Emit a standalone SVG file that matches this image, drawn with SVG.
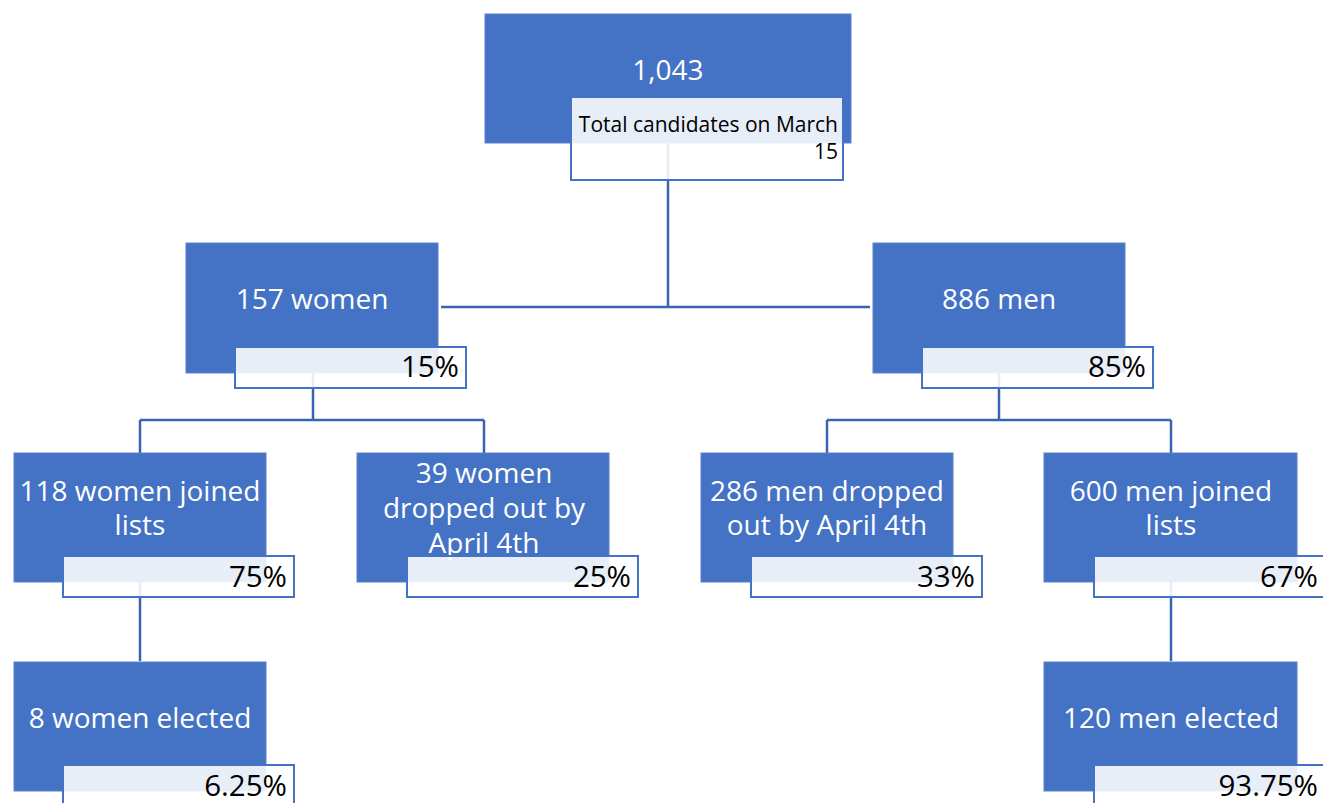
<svg xmlns="http://www.w3.org/2000/svg" width="1323" height="803" viewBox="0 0 1323 803">
<style>
.box{fill:#4472C4;stroke:#5B82CB;stroke-width:1}
.sub{fill:#FFFFFF;fill-opacity:0.88;stroke:#4472C4;stroke-width:2}
.t{font-family:"Open Sans","Noto Sans",sans-serif;font-size:28px;fill:#FFFFFF;text-anchor:middle}
.p{font-family:"Open Sans","Noto Sans",sans-serif;font-size:29.5px;fill:#000000;text-anchor:end}
.s{font-family:"Open Sans","Noto Sans",sans-serif;font-size:21px;fill:#000000;text-anchor:end}
.c{fill:none;stroke:#3A64B0;stroke-width:2.5}
</style>
<rect width="1323" height="803" fill="#FFFFFF"/>
<g id="connectors">
<path class="c" d="M668 143 V307 M441 307 H870"/>
<path class="c" d="M313 373 V420 M140 420 H484 M140 420 V453 M484 420 V453"/>
<path class="c" d="M999 373 V420 M827 420 H1171 M827 420 V453 M1171 420 V453"/>
<path class="c" d="M140 582 V661"/>
<path class="c" d="M1171 582 V661"/>
</g>
<g id="node-total">
<rect class="box" x="485" y="14" width="366" height="129"/>
<text class="t" x="668" y="80">1,043</text>
<rect class="sub" x="571" y="97" width="272" height="83"/>
<text class="s" x="838" y="132">Total candidates on March</text>
<text class="s" x="838" y="159">15</text>
</g>
<g id="node-women">
<rect class="box" x="186" y="243" width="252" height="130"/>
<text class="t" x="312" y="309">157 women</text>
<rect class="sub" x="235" y="347" width="231" height="41"/>
<text class="p" x="459" y="377">15%</text>
</g>
<g id="node-men">
<rect class="box" x="873" y="243" width="252" height="130"/>
<text class="t" x="999" y="309">886 men</text>
<rect class="sub" x="922" y="347" width="231" height="41"/>
<text class="p" x="1146" y="377">85%</text>
</g>
<g id="node-women-joined">
<rect class="box" x="14" y="453" width="252" height="129"/>
<text class="t" x="140" y="501">118 women joined</text>
<text class="t" x="140" y="535">lists</text>
<rect class="sub" x="63" y="556" width="231" height="41"/>
<text class="p" x="287" y="587">75%</text>
</g>
<g id="node-women-dropped">
<rect class="box" x="357" y="453" width="252" height="129"/>
<text class="t" x="484" y="483">39 women</text>
<text class="t" x="484" y="518">dropped out by</text>
<text class="t" x="484" y="553">April 4th</text>
<rect class="sub" x="407" y="556" width="231" height="41"/>
<text class="p" x="631" y="587">25%</text>
</g>
<g id="node-men-dropped">
<rect class="box" x="701" y="453" width="252" height="129"/>
<text class="t" x="827" y="501">286 men dropped</text>
<text class="t" x="827" y="535">out by April 4th</text>
<rect class="sub" x="751" y="556" width="231" height="41"/>
<text class="p" x="975" y="587">33%</text>
</g>
<g id="node-men-joined">
<rect class="box" x="1044" y="453" width="253" height="129"/>
<text class="t" x="1171" y="501">600 men joined</text>
<text class="t" x="1171" y="535">lists</text>
<rect class="sub" x="1094" y="556" width="231" height="41"/>
<text class="p" x="1318" y="587">67%</text>
</g>
<g id="node-women-elected">
<rect class="box" x="14" y="662" width="252" height="129"/>
<text class="t" x="140" y="728">8 women elected</text>
<rect class="sub" x="63" y="765" width="231" height="41"/>
<text class="p" x="287" y="796">6.25%</text>
</g>
<g id="node-men-elected">
<rect class="box" x="1044" y="662" width="253" height="129"/>
<text class="t" x="1171" y="728">120 men elected</text>
<rect class="sub" x="1094" y="765" width="231" height="41"/>
<text class="p" x="1318" y="796">93.75%</text>
</g>
</svg>
